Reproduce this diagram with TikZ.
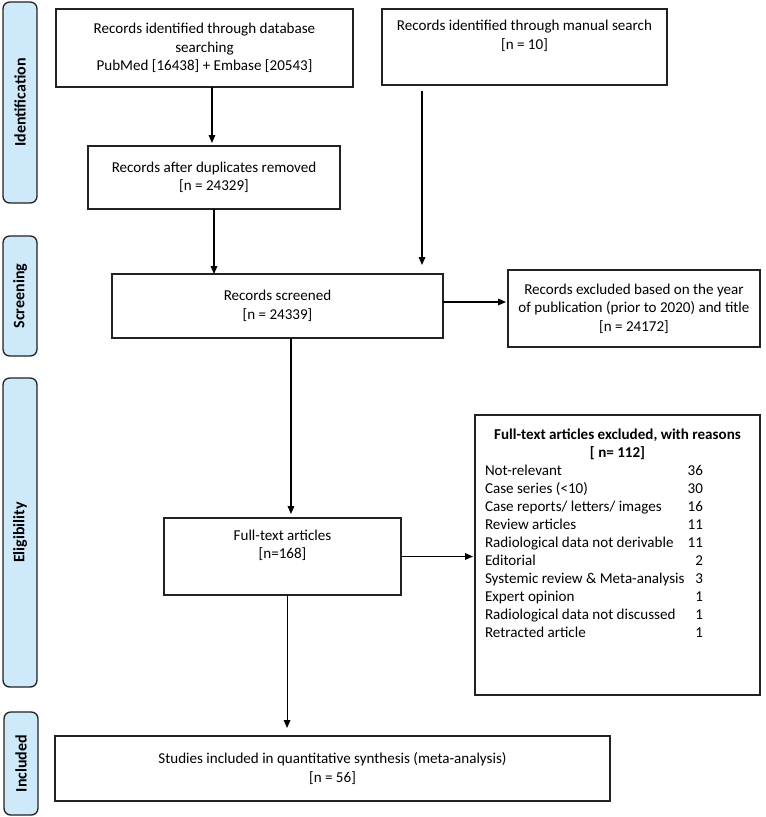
\documentclass[tikz,border=0pt]{standalone}
\usepackage{fontspec}
\setmainfont{Carlito}
\usetikzlibrary{arrows.meta}
\definecolor{phasefill}{HTML}{CDE9FA}
\definecolor{edgecol}{HTML}{222222}
\newcommand{\xrow}[2]{\makebox[198.75pt][l]{\makebox[163.5pt][l]{#1\hfill #2}}}
\begin{document}
\begin{tikzpicture}[x=0.75pt,y=-0.75pt,
  box/.style={draw=edgecol, line width=1pt, align=center, inner sep=0pt, outer sep=0pt,
              font=\fontsize{11.3}{13.9}\selectfont},
  plain/.style={align=center, inner sep=0pt, outer sep=0pt,
              font=\fontsize{11.3}{13.5}\selectfont},
  phase/.style={draw=edgecol, fill=phasefill, rounded corners=5pt, line width=1pt,
              inner sep=0pt, outer sep=0pt, rotate=90, minimum height=25.5pt,
              font=\fontsize{12}{14}\selectfont\bfseries},
  arr/.style={-{Triangle[length=6pt,width=5pt]}, line width=0.8pt, black}]
\useasboundingbox[fill=white] (0,0) rectangle (765,817);

% phase labels
\node[phase, minimum width=150.75pt] (ident) at (20,102.5) {Identification};
\node[phase, minimum width=90pt] (screen) at (20,296) {Screening};
\node[phase, minimum width=231.75pt] (elig) at (20,532.5) {Eligibility};
\node[phase, minimum width=77.25pt] (incl) at (21,763.5) {Included};

% boxes
\node[box, minimum width=222.75pt, minimum height=58.5pt] (db) at (204.5,48)
  {Records identified through database\\ searching\\ PubMed [16438] + Embase [20543]};
\node[box, minimum width=213.75pt, minimum height=57pt] (manual) at (524.5,47)
  {Records identified through manual search\\{}[n = 10]\\ \strut};
\node[box, minimum width=189pt, minimum height=47.25pt] (dedup) at (214,177.5)
  {Records after duplicates removed\\{}[n = 24329]};
\node[box, minimum width=248.25pt, minimum height=48pt] (screened) at (277.5,306)
  {Records screened\\{}[n = 24339]};
\node[box, minimum width=189pt, minimum height=57.75pt] (excl1) at (634,308.5)
  {Records excluded based on the year\\ of publication (prior to 2020) and title\\{}[n = 24172]};
\node[box, minimum width=177.75pt, minimum height=57.75pt] (full) at (282.5,556.5)
  {Full-text articles\\{}[n=168]\\ \strut};
\node[box, minimum width=213.75pt, minimum height=210pt] (excl2) at (617.5,555) {};
\node[plain, anchor=north] (excl2txt) at (617.5,429)
  {\textbf{Full-text articles excluded, with reasons}\\
   \textbf{[ n= 112]}\\
   \xrow{Not-relevant}{36}\\
   \xrow{Case series (<10)}{30}\\
   \xrow{Case reports/ letters/ images}{16}\\
   \xrow{Review articles}{11}\\
   \xrow{Radiological data not derivable}{11}\\
   \xrow{Editorial}{2}\\
   \xrow{Systemic review \& Meta-analysis}{3}\\
   \xrow{Expert opinion}{1}\\
   \xrow{Radiological data not discussed}{1}\\
   \xrow{Retracted article}{1}};
\node[box, minimum width=416.25pt, minimum height=48.75pt] (studies) at (332.5,768.5)
  {Studies included in quantitative synthesis (meta-analysis)\\{}[n = 56]};

% connectors
\draw[arr, shorten >=2.25pt] ([xshift=5.6pt]db.south) -- ([xshift=5.6pt]db.south |- dedup.north);
\draw[arr] (dedup.south) -- (dedup.south |- screened.north);
\coordinate (mstart) at ([xshift=-76.875pt]manual.south);
\draw[arr, shorten <=4.5pt, shorten >=6.75pt] (mstart) -- (mstart |- screened.north);
\draw[arr, shorten >=1.5pt] ([yshift=3pt]screened.east) -- ([yshift=3pt]screened.east -| excl1.west);
\draw[arr, shorten >=3pt] ([xshift=10.1pt]screened.south) -- ([xshift=10.1pt]screened.south |- full.north);
\draw[arr, shorten >=1.5pt] (full.east) -- (full.east -| excl2.west);
\draw[arr, shorten >=6pt] ([xshift=3.4pt]full.south) -- ([xshift=3.4pt]full.south |- studies.north);
\end{tikzpicture}
\end{document}
